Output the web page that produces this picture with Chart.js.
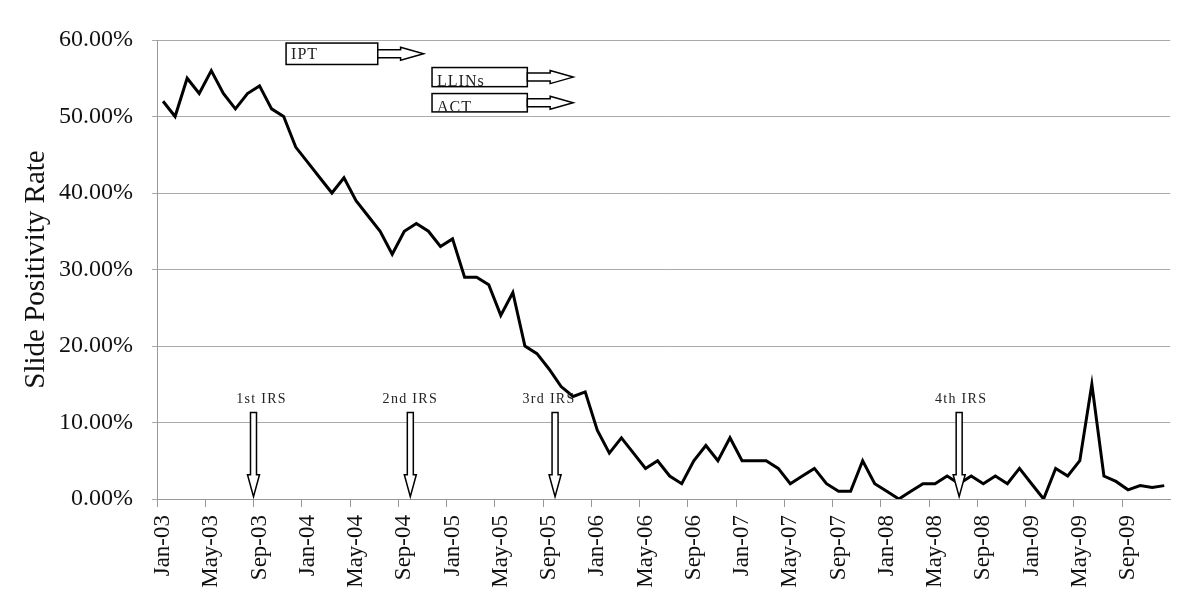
<!DOCTYPE html>
<html>
<head>
<meta charset="utf-8">
<script src="https://cdn.jsdelivr.net/npm/chart.js"></script>
<style>
  body { margin: 0; background: #fff; }
  #wrap { width: 1200px; height: 612px; }
</style>
</head>
<body>
<div id="wrap"><canvas id="chart" width="1200" height="612"></canvas></div>
<script>
// Categories: one per month, Jan-03 .. Dec-09
const monthNames = ["Jan", "Feb", "Mar", "Apr", "May", "Jun", "Jul", "Aug", "Sep", "Oct", "Nov", "Dec"];
const years = ["03", "04", "05", "06", "07", "08", "09"];
const labels = [];
years.forEach((yr) => monthNames.forEach((m) => labels.push(m + "-" + yr)));

// Slide positivity rate (%)
const positivity = [
  52, 50, 55, 53, 56, 53, 51, 53, 54, 51, 50, 46,
  44, 42, 40, 42, 39, 37, 35, 32, 35, 36, 35, 33,
  34, 29, 29, 28, 24, 27, 20, 19, 17, 14.7, 13.4, 14,
  9, 6, 8, 6, 4, 5, 3, 2, 5, 7, 5, 8,
  5, 5, 5, 4, 2, 3, 4, 2, 1, 1, 5, 2,
  1, 0, 1, 2, 2, 3, 2, 3, 2, 3, 2, 4,
  2, 0, 4, 3, 5, 15, 3, 2.3, 1.2, 1.75, 1.5, 1.75,
];

const yTicks = [0, 10, 20, 30, 40, 50, 60];

// Interventions (positions in months from Jan-03 and in % units)
const irsLabels = ["1st IRS", "2nd IRS", "3rd IRS", "4th IRS"];
const irsMonths = [8, 21, 33, 66.5];
const irsLabelShift = [8, 0, -6, 2];
const boxLabels = ["IPT", "LLINs", "ACT"];
const boxStart = [10.7, 22.8, 22.8];
const boxEnd = [18.3, 30.7, 30.7];
const arrowTip = [22.1, 34.5, 34.5];
const boxTop = [59.6, 56.4, 53.0];
const boxBottom = [56.8, 53.9, 50.6];
const boxTextInset = [5, 1, 0];

const serif = "'Liberation Serif', 'Times New Roman', serif";

const annotations = {
  id: "annotations",
  afterDatasetsDraw(chart) {
    const { ctx, scales } = chart;
    const x = scales.x, y = scales.y;
    const mx = (m) => x.left + (m * x.width) / labels.length;

    ctx.save();
    ctx.lineWidth = 1.5;
    ctx.strokeStyle = "#000";
    ctx.fillStyle = "#fff";
    ctx.lineJoin = "miter";

    // vertical IRS arrows
    irsMonths.forEach((m, i) => {
      const cx = mx(m);
      const top = y.getPixelForValue(11.3);
      const tip = y.getPixelForValue(0.3);
      const hs = tip - 22;
      ctx.beginPath();
      ctx.moveTo(cx - 3, top);
      ctx.lineTo(cx + 3, top);
      ctx.lineTo(cx + 3, hs);
      ctx.lineTo(cx + 6, hs);
      ctx.lineTo(cx, tip);
      ctx.lineTo(cx - 6, hs);
      ctx.lineTo(cx - 3, hs);
      ctx.closePath();
      ctx.fillStyle = "#fff";
      ctx.fill();
      ctx.stroke();

      ctx.fillStyle = "#222";
      ctx.font = "14px " + serif;
      ctx.letterSpacing = "1.3px";
      ctx.textAlign = "center";
      ctx.textBaseline = "alphabetic";
      ctx.fillText(irsLabels[i], cx + irsLabelShift[i], top - 10);
    });

    // boxes with horizontal arrows
    boxLabels.forEach((txt, i) => {
      const x1 = mx(boxStart[i]), x2 = mx(boxEnd[i]), xt = mx(arrowTip[i]);
      const y1 = y.getPixelForValue(boxTop[i]), y2 = y.getPixelForValue(boxBottom[i]);
      const cy = (y1 + y2) / 2;
      const hs = xt - 23;

      ctx.fillStyle = "#fff";
      ctx.fillRect(x1, y1, x2 - x1, y2 - y1);
      ctx.strokeRect(x1, y1, x2 - x1, y2 - y1);

      ctx.beginPath();
      ctx.moveTo(x2, cy - 4);
      ctx.lineTo(hs, cy - 4);
      ctx.lineTo(hs, cy - 6.5);
      ctx.lineTo(xt, cy);
      ctx.lineTo(hs, cy + 6.5);
      ctx.lineTo(hs, cy + 4);
      ctx.lineTo(x2, cy + 4);
      ctx.closePath();
      ctx.fill();
      ctx.stroke();

      ctx.fillStyle = "#222";
      ctx.font = "16px " + serif;
      ctx.letterSpacing = "1px";
      ctx.textAlign = "left";
      ctx.fillText(txt, x1 + 5, y2 - boxTextInset[i]);
    });
    ctx.restore();
  },
};

new Chart(document.getElementById("chart"), {
  type: "line",
  data: {
    labels: labels,
    datasets: [
      {
        label: "Slide Positivity Rate",
        data: positivity,
        borderColor: "#000",
        borderWidth: 3,
        pointRadius: 0,
        tension: 0,
        fill: false,
      },
    ],
  },
  options: {
    responsive: false,
    animation: false,
    layout: { padding: { top: 40, right: 29, left: 0, bottom: 0 } },
    plugins: {
      legend: { display: false },
      tooltip: { enabled: false },
    },
    scales: {
      x: {
        type: "category",
        offset: true,
        grid: {
          offset: true,
          drawOnChartArea: false,
          drawTicks: true,
          tickLength: 8,
          color: (c) => (c.index % 4 === 0 ? "#999" : "rgba(0,0,0,0)"),
        },
        border: { color: "#999" },
        ticks: {
          autoSkip: false,
          minRotation: 90,
          maxRotation: 90,
          padding: 8,
          color: "#111",
          font: { family: serif, size: 23 },
          callback: function (val, idx) {
            return idx % 4 === 0 ? labels[idx] : "";
          },
        },
        afterFit: (scale) => {
          scale.height = 113;
        },
      },
      y: {
        min: 0,
        max: 60,
        afterBuildTicks: (scale) => {
          scale.ticks = yTicks.map((v) => ({ value: v }));
        },
        grid: { color: "#aaa", tickLength: 5 },
        border: { color: "#999" },
        ticks: {
          padding: 19,
          color: "#111",
          font: { family: serif, size: 24 },
          callback: (v) => v.toFixed(2) + "%",
        },
        title: {
          display: true,
          text: "Slide Positivity Rate",
          color: "#111",
          font: { family: serif, size: 29 },
          padding: { top: 19, bottom: 0 },
        },
        afterFit: (scale) => {
          scale.width = 157;
        },
      },
    },
  },
  plugins: [annotations],
});
</script>
</body>
</html>
